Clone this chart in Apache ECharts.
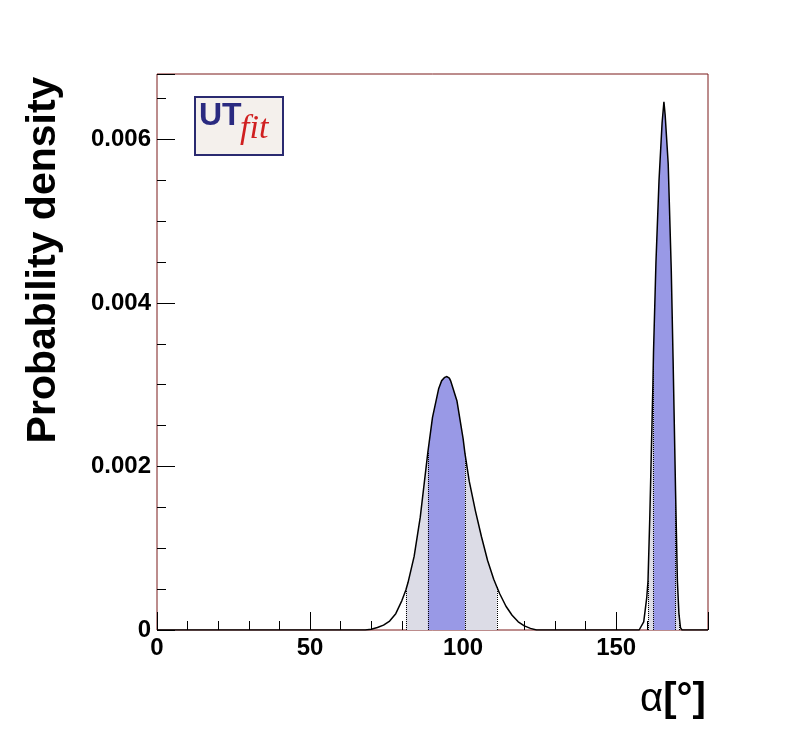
<!DOCTYPE html>
<html>
<head>
<meta charset="utf-8">
<script src="https://cdn.jsdelivr.net/npm/echarts@6/dist/echarts.min.js"></script>
<style>html,body{margin:0;background:#fff}#chart{width:788px;height:742px}</style>
</head>
<body>
<div id="chart"></div>
<script>
// alpha (deg) and probability density
const alphaVals = [0, 68, 70, 72, 74, 76, 78, 80, 81.3, 82, 84, 86, 88, 88.5, 90, 92, 93, 94, 94.7, 95.5, 96, 98, 100, 100.6, 102, 104, 106, 108, 110, 111, 112, 114, 116, 118, 120, 122, 124,
  157.5, 158, 159, 160, 160.4, 161, 162, 162.2, 163, 164, 165, 165.6, 166, 167, 168, 168.6, 169, 169.4, 170, 170.5, 171, 171.5, 180];
const densVals = [0, 0, 0.00001, 0.00003, 0.00006, 0.00011, 0.00020, 0.00036, 0.00049, 0.00058, 0.00090, 0.00138, 0.00202, 0.00218, 0.00260, 0.00295, 0.00305, 0.00309, 0.00310, 0.00308, 0.00304, 0.00280, 0.00234, 0.00216, 0.00182, 0.00146, 0.00114, 0.00085, 0.00062, 0.00053, 0.00044, 0.00029, 0.00018, 0.00010, 0.00005, 0.00002, 0,
  0, 0.00002, 0.0001, 0.0004, 0.0006, 0.0014, 0.0030, 0.0034, 0.0045, 0.0055, 0.0062, 0.00646, 0.0063, 0.0057, 0.0044, 0.0033, 0.0025, 0.0017, 0.0006, 0.0002, 0.00003, 0, 0];
const darkBands = [[88.5, 100.6], [162.2, 169.4]];
const lightBands = [[81.3, 111], [160.4, 170.5]];
const xTicks = [0, 50, 100, 150];
const yTicks = [0, 0.002, 0.004, 0.006];

const pts = alphaVals.map((a, i) => [a, densVals[i]]);
const inBand = (bands) => pts.map(p => bands.some(b => p[0] >= b[0] && p[0] <= b[1]) ? p : [p[0], null]);
const edges = lightBands.concat(darkBands).flat();
const edgeLines = edges.map(e => {
  const p = pts.find(q => q[0] === e);
  return [{coord: [e, 0]}, {coord: [e, p[1]]}];
});

const chart = echarts.init(document.getElementById('chart'));
const font = '"Liberation Sans", Arial, sans-serif';
const axisLbl = {color: '#000', fontSize: 24, fontWeight: 'bold', fontFamily: font};
chart.setOption({
  animation: false,
  grid: {left: 157, top: 74, right: 80, bottom: 112, show: true, borderColor: '#7a1a1a', borderWidth: 1},
  xAxis: {
    type: 'value', min: 0, max: 180, interval: 50,
    axisLine: {show: false},
    axisTick: {inside: true, length: 18, lineStyle: {color: '#000'}},
    minorTick: {show: true, splitNumber: 5, length: 9, lineStyle: {color: '#000'}},
    splitLine: {show: false},
    axisLabel: Object.assign({margin: 6, customValues: xTicks}, axisLbl)
  },
  yAxis: {
    type: 'value', min: 0, max: 0.0068, interval: 0.002,
    axisLine: {show: false},
    axisTick: {inside: true, length: 18, lineStyle: {color: '#000'}},
    minorTick: {show: true, splitNumber: 4, length: 9, lineStyle: {color: '#000'}},
    splitLine: {show: false},
    axisLabel: Object.assign({margin: 6, showMaxLabel: false, formatter: v => yTicks.includes(+v.toFixed(4)) ? (v === 0 ? '0' : v.toFixed(3)) : ''}, axisLbl)
  },
  series: [
    {type: 'line', data: inBand(lightBands), symbol: 'none', lineStyle: {width: 0}, areaStyle: {color: '#dcdce6', opacity: 1}},
    {type: 'line', data: inBand(darkBands), symbol: 'none', lineStyle: {width: 0}, areaStyle: {color: '#9999e6', opacity: 1}},
    {type: 'line', data: pts, symbol: 'none', lineStyle: {color: '#000', width: 1.5},
      markLine: {silent: true, symbol: 'none', label: {show: false}, lineStyle: {color: '#000', type: 'dotted', width: 1}, data: edgeLines}}
  ],
  graphic: [
    {type: 'text', x: 44, y: 260, rotation: Math.PI / 2 * 1, style: {text: 'Probability density', fontSize: 41, fontWeight: 'bold', fontFamily: font, fill: '#000', align: 'center', verticalAlign: 'middle'}},
    {type: 'text', left: 640, top: 680, style: {text: '{a|α}{b|[°]}', rich: {a: {fontSize: 40, fontFamily: font, fill: '#000'}, b: {fontSize: 40, fontWeight: 'bold', fontFamily: font, fill: '#000'}}}},
    {type: 'rect', shape: {x: 195, y: 97, width: 88, height: 58}, style: {fill: '#f4f0ec', stroke: '#2a2a70', lineWidth: 2}},
    {type: 'text', left: 199, top: 100, style: {text: 'UT', fontSize: 32, fontWeight: 'bold', fontFamily: font, fill: '#2a2a80'}},
    {type: 'text', left: 240, top: 112, style: {text: 'fit', fontSize: 34, fontStyle: 'italic', fontFamily: '"Liberation Serif", serif', fill: '#d02020'}}
  ]
});
</script>
</body>
</html>
